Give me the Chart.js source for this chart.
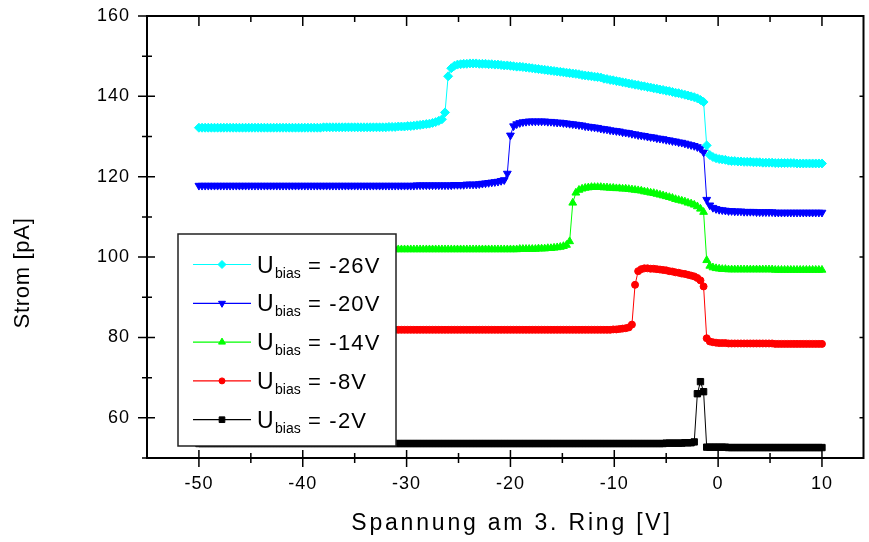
<!DOCTYPE html>
<html>
<head>
<meta charset="utf-8">
<script src="https://cdn.jsdelivr.net/npm/chart.js@4.4.0/dist/chart.umd.min.js"></script>
<style>
  html, body { margin: 0; padding: 0; background: #fff; }
  #wrap { width: 869px; height: 542px; position: relative; }
</style>
</head>
<body>
<div id="wrap"><canvas id="strom"></canvas></div>
<script>
// Strom gegen Spannung am 3. Ring, eine Kurve pro Biasspannung
const spannung = [
  -50,-49.7,-49.4,-49.1,-48.8,-48.5,-48.2,-47.9,-47.6,-47.3,
  -47,-46.7,-46.4,-46.1,-45.8,-45.5,-45.2,-44.9,-44.6,-44.3,
  -44,-43.7,-43.4,-43.1,-42.8,-42.5,-42.2,-41.9,-41.6,-41.3,
  -41,-40.7,-40.4,-40.1,-39.8,-39.5,-39.2,-38.9,-38.6,-38.3,
  -38,-37.7,-37.4,-37.1,-36.8,-36.5,-36.2,-35.9,-35.6,-35.3,
  -35,-34.7,-34.4,-34.1,-33.8,-33.5,-33.2,-32.9,-32.6,-32.3,
  -32,-31.7,-31.4,-31.1,-30.8,-30.5,-30.2,-29.9,-29.6,-29.3,
  -29,-28.7,-28.4,-28.1,-27.8,-27.5,-27.2,-26.9,-26.6,-26.3,
  -26,-25.7,-25.4,-25.1,-24.8,-24.5,-24.2,-23.9,-23.6,-23.3,
  -23,-22.7,-22.4,-22.1,-21.8,-21.5,-21.2,-20.9,-20.6,-20.3,
  -20,-19.7,-19.4,-19.1,-18.8,-18.5,-18.2,-17.9,-17.6,-17.3,
  -17,-16.7,-16.4,-16.1,-15.8,-15.5,-15.2,-14.9,-14.6,-14.3,
  -14,-13.7,-13.4,-13.1,-12.8,-12.5,-12.2,-11.9,-11.6,-11.3,
  -11,-10.7,-10.4,-10.1,-9.8,-9.5,-9.2,-8.9,-8.6,-8.3,
  -8,-7.7,-7.4,-7.1,-6.8,-6.5,-6.2,-5.9,-5.6,-5.3,
  -5,-4.7,-4.4,-4.1,-3.8,-3.5,-3.2,-2.9,-2.6,-2.3,
  -2,-1.7,-1.4,-1.1,-0.8,-0.5,-0.2,0.1,0.4,0.7,
  1,1.3,1.6,1.9,2.2,2.5,2.8,3.1,3.4,3.7,
  4,4.3,4.6,4.9,5.2,5.5,5.8,6.1,6.4,6.7,
  7,7.3,7.6,7.9,8.2,8.5,8.8,9.1,9.4,9.7,
  10
];

// Strom in pA
const bias26 = [
  132.2,132.2,132.2,132.2,132.2,132.2,132.2,132.2,132.2,132.2,
  132.2,132.2,132.2,132.2,132.2,132.2,132.2,132.2,132.2,132.2,
  132.2,132.2,132.2,132.2,132.2,132.2,132.2,132.2,132.2,132.2,
  132.2,132.2,132.2,132.2,132.2,132.2,132.2,132.2,132.2,132.2,
  132.3,132.3,132.3,132.3,132.3,132.3,132.3,132.3,132.3,132.3,
  132.3,132.3,132.3,132.3,132.3,132.3,132.3,132.3,132.3,132.3,
  132.3,132.4,132.4,132.4,132.5,132.5,132.5,132.6,132.6,132.7,
  132.8,132.9,133.0,133.1,133.2,133.4,133.6,133.9,134.3,136.0,
  145.0,147.0,147.6,147.9,148.0,148.1,148.1,148.2,148.2,148.2,
  148.1,148.1,148.1,148.0,148.0,147.9,147.9,147.8,147.7,147.7,
  147.6,147.5,147.4,147.4,147.3,147.2,147.1,147.0,146.9,146.8,
  146.7,146.6,146.5,146.4,146.3,146.2,146.1,146.0,145.9,145.8,
  145.7,145.6,145.5,145.3,145.2,145.1,145.0,144.9,144.8,144.7,
  144.4,144.3,144.1,144.0,143.8,143.7,143.5,143.4,143.2,143.1,
  142.9,142.8,142.6,142.5,142.3,142.2,142.0,141.9,141.7,141.6,
  141.4,141.3,141.1,140.9,140.8,140.6,140.4,140.2,140.0,139.8,
  139.5,139.1,138.6,127.8,125.4,124.9,124.6,124.4,124.3,124.2,
  124.0,123.9,123.9,123.8,123.8,123.7,123.7,123.7,123.6,123.6,
  123.6,123.5,123.5,123.5,123.5,123.4,123.4,123.4,123.4,123.4,
  123.4,123.4,123.3,123.3,123.3,123.3,123.3,123.3,123.3,123.3,
  123.3
];
const bias20 = [
  117.8,117.8,117.8,117.8,117.8,117.8,117.8,117.8,117.8,117.8,
  117.8,117.8,117.8,117.8,117.8,117.8,117.8,117.8,117.8,117.8,
  117.8,117.8,117.8,117.8,117.8,117.8,117.8,117.8,117.8,117.8,
  117.8,117.8,117.8,117.8,117.8,117.8,117.8,117.8,117.8,117.8,
  117.8,117.8,117.8,117.8,117.8,117.8,117.8,117.8,117.8,117.8,
  117.8,117.8,117.8,117.8,117.8,117.8,117.8,117.8,117.8,117.8,
  117.8,117.8,117.8,117.8,117.8,117.8,117.8,117.8,117.8,117.8,
  117.9,117.9,117.9,117.9,117.9,117.9,117.9,117.9,117.9,117.9,
  117.9,117.9,118.0,118.0,118.0,118.0,118.1,118.1,118.1,118.1,
  118.2,118.3,118.4,118.5,118.6,118.7,118.8,119.0,119.2,120.8,
  130.3,132.6,133.1,133.4,133.6,133.7,133.8,133.8,133.8,133.8,
  133.8,133.8,133.7,133.7,133.6,133.5,133.5,133.4,133.3,133.2,
  133.1,133.0,132.9,132.8,132.6,132.5,132.4,132.3,132.2,132.0,
  131.9,131.8,131.6,131.5,131.4,131.3,131.1,131.0,130.9,130.7,
  130.6,130.4,130.3,130.2,130.0,129.9,129.8,129.6,129.5,129.4,
  129.2,129.1,128.9,128.8,128.6,128.5,128.3,128.1,127.9,127.7,
  127.4,127.0,126.1,114.3,112.9,112.3,112.0,111.8,111.7,111.6,
  111.5,111.5,111.4,111.4,111.4,111.3,111.3,111.3,111.3,111.2,
  111.2,111.2,111.2,111.2,111.2,111.1,111.1,111.1,111.1,111.1,
  111.1,111.1,111.1,111.1,111.1,111.1,111.1,111.1,111.1,111.1,
  111.1
];
const bias14 = [
  101.9,101.9,101.9,101.9,101.9,101.9,101.9,101.9,101.9,101.9,
  101.9,101.9,101.9,101.9,101.9,101.9,101.9,101.9,101.9,101.9,
  101.9,101.9,101.9,101.9,101.9,101.9,101.9,101.9,101.9,101.9,
  101.9,101.9,101.9,101.9,101.9,101.9,101.9,101.9,101.9,101.9,
  101.9,101.9,101.9,101.9,101.9,101.9,101.9,101.9,101.9,101.9,
  101.9,101.9,101.9,101.9,101.9,101.9,101.9,101.9,101.9,101.9,
  101.9,101.9,101.9,101.9,101.9,101.9,101.9,101.9,101.9,101.9,
  101.9,101.9,101.9,101.9,101.9,101.9,101.9,101.9,101.9,101.9,
  101.9,101.9,101.9,101.9,101.9,101.9,101.9,101.9,101.9,101.9,
  101.9,101.9,101.9,101.9,101.9,101.9,101.9,101.9,101.9,101.9,
  101.9,101.9,101.9,102.0,102.0,102.0,102.0,102.0,102.0,102.1,
  102.1,102.1,102.2,102.2,102.3,102.4,102.5,102.7,103.0,103.9,
  113.5,116.0,116.7,117.0,117.2,117.3,117.4,117.4,117.4,117.4,
  117.3,117.3,117.2,117.2,117.1,117.1,117.0,117.0,116.9,116.8,
  116.7,116.6,116.5,116.3,116.2,116.0,115.9,115.7,115.5,115.3,
  115.1,114.9,114.7,114.4,114.2,114.0,113.8,113.5,113.3,113.0,
  112.6,112.0,111.2,99.2,97.8,97.4,97.2,97.1,97.0,97.0,
  96.9,96.9,96.9,96.9,96.9,96.9,96.9,96.9,96.9,96.9,
  96.9,96.9,96.9,96.9,96.9,96.8,96.8,96.8,96.8,96.8,
  96.8,96.8,96.8,96.8,96.8,96.8,96.8,96.8,96.8,96.8,
  96.8
];
const bias8 = [
  81.9,81.9,81.9,81.9,81.9,81.9,81.9,81.9,81.9,81.9,
  81.9,81.9,81.9,81.9,81.9,81.9,81.9,81.9,81.9,81.9,
  81.9,81.9,81.9,81.9,81.9,81.9,81.9,81.9,81.9,81.9,
  81.9,81.9,81.9,81.9,81.9,81.9,81.9,81.9,81.9,81.9,
  81.9,81.9,81.9,81.9,81.9,81.9,81.9,81.9,81.9,81.9,
  81.9,81.9,81.9,81.9,81.9,81.9,81.9,81.9,81.9,81.9,
  81.9,81.9,81.9,81.9,81.9,81.9,81.9,81.9,81.9,81.9,
  81.9,81.9,81.9,81.9,81.9,81.9,81.9,81.9,81.9,81.9,
  81.9,81.9,81.9,81.9,81.9,81.9,81.9,81.9,81.9,81.9,
  81.9,81.9,81.9,81.9,81.9,81.9,81.9,81.9,81.9,81.9,
  81.9,81.9,81.9,81.9,81.9,81.9,81.9,81.9,81.9,81.9,
  81.9,81.9,81.9,81.9,81.9,81.9,81.9,81.9,81.9,81.9,
  81.9,81.9,81.9,81.9,81.9,81.9,81.9,81.9,81.9,81.9,
  81.9,81.9,81.9,82.0,82.0,82.1,82.2,82.3,82.5,83.2,
  93.1,96.5,97.0,97.2,97.2,97.1,97.1,97.0,96.9,96.8,
  96.7,96.5,96.4,96.2,96.1,95.9,95.8,95.6,95.4,95.2,
  94.8,94.2,92.7,79.8,79.0,78.8,78.7,78.6,78.6,78.6,
  78.5,78.5,78.5,78.5,78.5,78.5,78.5,78.5,78.5,78.5,
  78.5,78.5,78.5,78.5,78.5,78.4,78.4,78.4,78.4,78.4,
  78.4,78.4,78.4,78.4,78.4,78.4,78.4,78.4,78.4,78.4,
  78.4
];
const bias2 = [
  53.6,53.6,53.6,53.6,53.6,53.6,53.6,53.6,53.6,53.6,
  53.6,53.6,53.6,53.6,53.6,53.6,53.6,53.6,53.6,53.6,
  53.6,53.6,53.6,53.6,53.6,53.6,53.6,53.6,53.6,53.6,
  53.6,53.6,53.6,53.6,53.6,53.6,53.6,53.6,53.6,53.6,
  53.6,53.6,53.6,53.6,53.6,53.6,53.6,53.6,53.6,53.6,
  53.6,53.6,53.6,53.6,53.6,53.6,53.6,53.6,53.6,53.6,
  53.6,53.6,53.6,53.6,53.6,53.6,53.6,53.6,53.6,53.6,
  53.6,53.6,53.6,53.6,53.6,53.6,53.6,53.6,53.6,53.6,
  53.6,53.6,53.6,53.6,53.6,53.6,53.6,53.6,53.6,53.6,
  53.6,53.6,53.6,53.6,53.6,53.6,53.6,53.6,53.6,53.6,
  53.6,53.6,53.6,53.6,53.6,53.6,53.6,53.6,53.6,53.6,
  53.6,53.6,53.6,53.6,53.6,53.6,53.6,53.6,53.6,53.6,
  53.6,53.6,53.6,53.6,53.6,53.6,53.6,53.6,53.6,53.6,
  53.6,53.6,53.6,53.6,53.6,53.6,53.6,53.6,53.6,53.6,
  53.6,53.6,53.6,53.6,53.6,53.6,53.6,53.6,53.6,53.6,
  53.7,53.7,53.7,53.7,53.7,53.7,53.8,53.8,53.8,54.0,
  66.0,69.0,66.5,52.7,52.7,52.7,52.7,52.7,52.7,52.7,
  52.6,52.6,52.6,52.6,52.6,52.6,52.6,52.6,52.6,52.6,
  52.6,52.6,52.6,52.6,52.6,52.6,52.6,52.6,52.6,52.6,
  52.6,52.6,52.6,52.6,52.6,52.6,52.6,52.6,52.6,52.6,
  52.6
];

const biasLabels = ["-26V", "-20V", "-14V", "-8V", "-2V"];
const xTickVals = [-50, -40, -30, -20, -10, 0, 10];
const xMinorVals = [-45, -35, -25, -15, -5, 5];
const yTickVals = [60, 80, 100, 120, 140, 160];
const yMinorVals = [50, 70, 90, 110, 130, 150];
const xTitle = "Spannung am 3. Ring [V]";
const yTitle = "Strom [pA]";

const FONT = '"Liberation Sans", Arial, sans-serif';

const series = [
  { werte: bias26, color: "#00ffff", style: "rectRot", r: 4.5, rot: 0 },
  { werte: bias20, color: "#0000ff", style: "triangle", r: 4.5, rot: 180 },
  { werte: bias14, color: "#00ff00", style: "triangle", r: 4.5, rot: 0 },
  { werte: bias8,  color: "#ff0000", style: "circle", r: 3.5, rot: 0 },
  { werte: bias2,  color: "#000000", style: "rect", r: 4.5, rot: 0 }
];

const datasets = series.map((s, k) => ({
  label: "U_bias = " + biasLabels[k],
  data: spannung.map((v, i) => ({ x: v, y: s.werte[i] })),
  borderColor: s.color,
  backgroundColor: s.color,
  borderWidth: 1,
  pointStyle: s.style,
  pointRadius: s.r,
  pointRotation: s.rot,
  pointBorderWidth: 1,
  pointBackgroundColor: s.color,
  pointBorderColor: s.color,
  tension: 0
}));

// frame, ticks, titles and the legend box are drawn here
const rahmen = {
  id: "rahmen",
  beforeDraw(chart) { chart.ctx.letterSpacing = "1px"; },
  beforeDatasetsDraw(chart) { chart.ctx.letterSpacing = "0px"; },
  afterDraw(chart) {
    const ctx = chart.ctx;
    const a = chart.chartArea;
    const xs = chart.scales.x, ys = chart.scales.y;
    ctx.save();
    ctx.strokeStyle = "#000";
    ctx.lineWidth = 2;
    ctx.strokeRect(a.left, a.top, a.right - a.left, a.bottom - a.top);

    ctx.lineWidth = 1.5;
    ctx.beginPath();
    const seg = (x1, y1, x2, y2) => { ctx.moveTo(x1, y1); ctx.lineTo(x2, y2); };
    xTickVals.forEach(v => {
      const px = xs.getPixelForValue(v);
      seg(px, a.bottom - 8, px, a.bottom + 9);
      seg(px, a.top, px, a.top + 10);
    });
    xMinorVals.forEach(v => {
      const px = xs.getPixelForValue(v);
      seg(px, a.bottom - 5, px, a.bottom + 5);
      seg(px, a.top, px, a.top + 6);
    });
    yTickVals.forEach(v => {
      const py = ys.getPixelForValue(v);
      seg(a.left - 9, py, a.left + 8, py);
      seg(a.right - 4, py, a.right, py);
    });
    yMinorVals.forEach(v => {
      const py = ys.getPixelForValue(v);
      seg(a.left - 5, py, a.left + 5, py);
    });
    ctx.stroke();

    // axis titles
    ctx.fillStyle = "#000";
    ctx.textAlign = "center";
    ctx.textBaseline = "middle";
    ctx.font = "23px " + FONT;
    ctx.letterSpacing = "2.8px";
    ctx.fillText(xTitle, 512, 524);
    ctx.save();
    ctx.translate(23, 273);
    ctx.rotate(-Math.PI / 2);
    ctx.letterSpacing = "0.7px";
    ctx.font = "22px " + FONT;
    ctx.fillText(yTitle, 0, 0);
    ctx.restore();

    // legend
    const lx = 178, ly = 234, lw = 218, lh = 212;
    ctx.fillStyle = "#fff";
    ctx.fillRect(lx, ly, lw, lh);
    ctx.strokeStyle = "#222";
    ctx.lineWidth = 1.5;
    ctx.strokeRect(lx, ly, lw, lh);
    ctx.textAlign = "left";
    ctx.textBaseline = "alphabetic";
    series.forEach((s, k) => {
      const cy = 264.5 + k * 38.8;
      ctx.strokeStyle = s.color;
      ctx.lineWidth = 1.2;
      ctx.beginPath();
      ctx.moveTo(193, cy);
      ctx.lineTo(251, cy);
      ctx.stroke();
      ctx.fillStyle = s.color;
      ctx.strokeStyle = s.color;
      ctx.lineWidth = 1;
      Chart.helpers.drawPoint(ctx, {
        pointStyle: s.style, radius: s.r - 0.5, rotation: s.rot, borderWidth: 1
      }, 222, cy);
      ctx.fillStyle = "#000";
      ctx.letterSpacing = "0px";
      ctx.font = "23px " + FONT;
      ctx.fillText("U", 257, cy + 8);
      ctx.font = "14px " + FONT;
      ctx.fillText("bias", 275, cy + 13);
      ctx.font = "22px " + FONT;
      ctx.letterSpacing = "1.2px";
      ctx.fillText("= " + biasLabels[k], 308, cy + 8);
    });
    ctx.restore();
  }
};

new Chart("strom", {
  type: "scatter",
  data: { datasets: datasets },
  options: {
    responsive: true,
    maintainAspectRatio: false,
    animation: false,
    showLine: true,
    layout: { padding: { left: 0, right: 0, top: 16, bottom: 0 } },
    plugins: { legend: { display: false }, tooltip: { enabled: false } },
    scales: {
      x: {
        type: "linear",
        min: -55,
        max: 14,
        afterBuildTicks: s => { s.ticks = xTickVals.map(v => ({ value: v })); },
        afterFit: s => { s.height = 84; s.paddingLeft = 0; s.paddingRight = 0; },
        grid: { display: false, drawTicks: false },
        border: { display: false },
        ticks: { color: "#000", padding: 15, maxRotation: 0, autoSkip: false,
                 font: { family: FONT, size: 18 } }
      },
      y: {
        type: "linear",
        min: 50,
        max: 160,
        afterBuildTicks: s => { s.ticks = yTickVals.map(v => ({ value: v })); },
        afterFit: s => { s.width = 147; s.paddingTop = 0; s.paddingBottom = 0; },
        grid: { display: false, drawTicks: false },
        border: { display: false },
        ticks: { color: "#000", padding: 17, autoSkip: false,
                 font: { family: FONT, size: 18 } }
      }
    }
  },
  plugins: [rahmen]
});
</script>
</body>
</html>
